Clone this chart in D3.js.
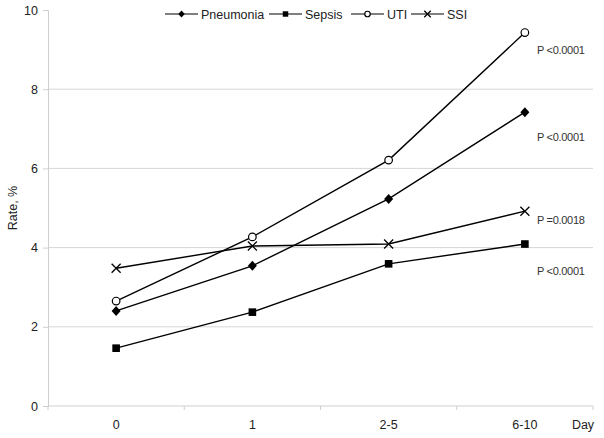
<!DOCTYPE html>
<html>
<head>
<meta charset="utf-8">
<script src="https://cdn.jsdelivr.net/npm/d3@7"></script>
<style>
  body { margin: 0; background: #fff; }
  text { font-family: Arial, "Liberation Sans", sans-serif; }
</style>
</head>
<body>
<script>
'use strict';

// chart data
const days = ["0", "1", "2-5", "6-10"];
const pneumonia = [2.40, 3.54, 5.23, 7.42];
const sepsis = [1.46, 2.37, 3.59, 4.09];
const uti = [2.65, 4.27, 6.21, 9.43];
const ssi = [3.48, 4.04, 4.09, 4.92];
const seriesNames = ["Pneumonia", "Sepsis", "UTI", "SSI"];
const seriesMarkers = ["diamond", "square", "circle", "cross"];
const pLabels = ["P <0.0001", "P <0.0001", "P =0.0018", "P <0.0001"];
const pLabelValues = [9.0, 6.8, 4.7, 3.4]; // vertical position of each note, in rate units
const yTicks = [0, 2, 4, 6, 8, 10];

const measurements = { width: 604, height: 438, left: 48, right: 593, top: 10, bottom: 406 };

const svg = d3.select('body').append('svg')
  .attr('width', measurements.width)
  .attr('height', measurements.height);

const xScale = d3.scaleBand().domain(days).range([measurements.left, measurements.right]);
const yScale = d3.scaleLinear().domain([0, 10]).range([measurements.bottom, measurements.top]);
const xMid = d => xScale(d) + xScale.bandwidth() / 2;

// gridlines
svg.append('g').selectAll('line')
  .data(yTicks.filter(t => t > 0 && t < 10))
  .enter().append('line')
  .attr('x1', measurements.left).attr('x2', measurements.right)
  .attr('y1', d => yScale(d)).attr('y2', d => yScale(d))
  .attr('stroke', '#d6d6d6');

// y axis
const yAxis = svg.append('g')
  .attr('transform', `translate(${measurements.left},0)`)
  .call(d3.axisLeft(yScale).tickValues(yTicks).tickSize(5).tickPadding(5));
yAxis.select('.domain').attr('stroke', '#cfcfcf');
yAxis.selectAll('.tick line').attr('stroke', '#cfcfcf');
yAxis.selectAll('text').style('font-size', '12.5px').style('fill', '#222');

// x axis (ticks at band boundaries)
const xAxis = svg.append('g')
  .attr('transform', `translate(0,${measurements.bottom})`);
xAxis.append('line')
  .attr('x1', measurements.left).attr('x2', measurements.right)
  .attr('stroke', '#cfcfcf');
xAxis.selectAll('.bt')
  .data(days.map(d => xScale(d)).concat([measurements.right]))
  .enter().append('line')
  .attr('x1', d => d).attr('x2', d => d)
  .attr('y1', 0).attr('y2', 4)
  .attr('stroke', '#cfcfcf');
xAxis.selectAll('.lab')
  .data(days)
  .enter().append('text')
  .attr('x', xMid)
  .attr('y', 23)
  .attr('text-anchor', 'middle')
  .style('font-size', '12.5px')
  .style('fill', '#222')
  .text(d => d);
xAxis.append('text')
  .attr('x', 583).attr('y', 23)
  .attr('text-anchor', 'middle')
  .style('font-size', '12.5px')
  .style('fill', '#222')
  .text('Day');

// y title
svg.append('text')
  .attr('transform', 'translate(17,208)rotate(-90)')
  .attr('text-anchor', 'middle')
  .style('font-size', '12.5px')
  .style('fill', '#222')
  .text('Rate, %');

// marker drawing
function drawMarker(g, type, x, y, s) {
  if (type === 'diamond') {
    g.append('path').attr('d', `M${x},${y - 5 * s}L${x + 4.5 * s},${y}L${x},${y + 5 * s}L${x - 4.5 * s},${y}Z`).attr('fill', '#000');
  } else if (type === 'square') {
    g.append('rect').attr('x', x - 3.8 * s).attr('y', y - 3.8 * s).attr('width', 7.6 * s).attr('height', 7.6 * s).attr('fill', '#000');
  } else if (type === 'circle') {
    g.append('circle').attr('cx', x).attr('cy', y).attr('r', 3.8 * s).attr('fill', '#fff').attr('stroke', '#000').attr('stroke-width', 1.2);
  } else {
    const k = 4.5 * s;
    g.append('path').attr('d', `M${x - k},${y - k}L${x + k},${y + k}M${x - k},${y + k}L${x + k},${y - k}`)
      .attr('stroke', '#000').attr('stroke-width', 1.3);
  }
}

// series lines and markers
const allSeries = [pneumonia, sepsis, uti, ssi];
const line = d3.line().x((d, i) => xMid(days[i])).y(d => yScale(d));
allSeries.forEach((vals, si) => {
  const g = svg.append('g');
  g.append('path')
    .datum(vals)
    .attr('d', line)
    .attr('fill', 'none')
    .attr('stroke', '#000')
    .attr('stroke-width', 1.4);
  vals.forEach((v, i) => drawMarker(g, seriesMarkers[si], xMid(days[i]), yScale(v), 1));
});

// p-value notes
svg.selectAll('.pnote')
  .data(pLabels)
  .enter().append('text')
  .attr('x', 537)
  .attr('y', (d, i) => yScale(pLabelValues[i]) + 4)
  .style('font-size', '11px')
  .style('fill', '#333')
  .style('letter-spacing', '-0.3px')
  .text(d => d);

// legend
const legendX = [165, 269, 351, 411];
const legendW = 33;
seriesNames.forEach((name, i) => {
  const g = svg.append('g');
  const x0 = legendX[i];
  g.append('line').attr('x1', x0).attr('x2', x0 + legendW).attr('y1', 14).attr('y2', 14)
    .attr('stroke', '#000').attr('stroke-width', 1.2);
  drawMarker(g, seriesMarkers[i], x0 + legendW / 2, 14, 0.72);
  g.append('text').attr('x', x0 + legendW + 3).attr('y', 18.5)
    .style('font-size', '12.5px').style('fill', '#222').text(name);
});
</script>
</body>
</html>
